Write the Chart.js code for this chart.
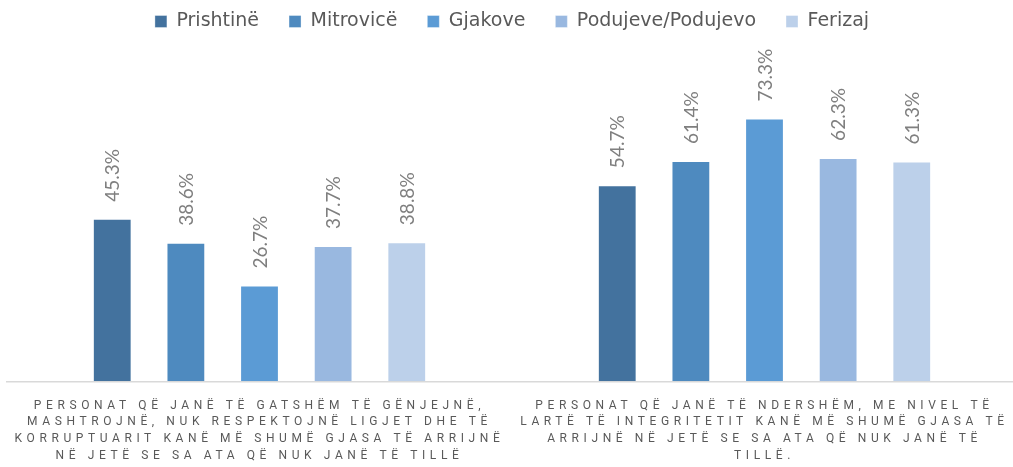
<!DOCTYPE html>
<html>
<head>
<meta charset="utf-8">
<script src="https://cdn.jsdelivr.net/npm/chart.js@4.4.1/dist/chart.umd.min.js"></script>
<style>
html, body { margin: 0; padding: 0; background: #fff; overflow: hidden; }
#wrap { width: 1017px; height: 467px; position: relative; }
</style>
</head>
<body>
<div id="wrap"><canvas id="integrityChart"></canvas></div>
<script>
// te dhenat
const categories = [
    ['PERSONAT QË JANË TË GATSHËM TË GËNJEJNË,', 'MASHTROJNË, NUK RESPEKTOJNË LIGJET DHE TË', 'KORRUPTUARIT KANË MË SHUMË GJASA TË ARRIJNË', 'NË JETË SE SA ATA QË NUK JANË TË TILLË'],
    ['PERSONAT QË JANË TË NDERSHËM, ME NIVEL TË', 'LARTË TË INTEGRITETIT KANË MË SHUMË GJASA TË', 'ARRIJNË NË JETË SE SA ATA QË NUK JANË TË', 'TILLË.']
];
const cities = ['Prishtinë', 'Mitrovicë', 'Gjakove', 'Podujeve/Podujevo', 'Ferizaj'];
const prishtine = [45.3, 54.7];
const mitrovice = [38.6, 61.4];
const gjakove = [26.7, 73.3];
const podujeve = [37.7, 62.3];
const ferizaj = [38.8, 61.3];
const colors = ['#43729e', '#4e8abf', '#5b9bd5', '#99b8e0', '#bcd0ea'];

const seriesValues = [prishtine, mitrovice, gjakove, podujeve, ferizaj];

// etiketat e rrotulluara mbi shtylla
const barLabels = {
    id: 'barLabels',
    afterDatasetsDraw(chart) {
        const ctx = chart.ctx;
        ctx.save();
        ctx.font = '19px Lato';
        ctx.fillStyle = '#7f7f7f';
        ctx.textAlign = 'left';
        ctx.textBaseline = 'middle';
        chart.data.datasets.forEach((ds, i) => {
            chart.getDatasetMeta(i).data.forEach((bar, j) => {
                ctx.save();
                ctx.translate(bar.x + 1, bar.y - 17);
                ctx.rotate(-Math.PI / 2);
                ctx.fillText(ds.data[j].toFixed(1) + '%', 0, 0);
                ctx.restore();
            });
        });
        ctx.restore();
    }
};

// hapesire mes shkronjave per etiketat e boshtit x
const spacedTicks = {
    id: 'spacedTicks',
    afterLayout(chart) {
        const scale = chart.scales.x;
        if (scale._spaced) return;
        const draw = scale.drawLabels.bind(scale);
        scale.drawLabels = function (area) {
            const prev = this.ctx.letterSpacing;
            this.ctx.letterSpacing = '4.6px';
            draw(area);
            this.ctx.letterSpacing = prev || '0px';
        };
        scale._spaced = true;
    }
};

const ctx = document.getElementById('integrityChart').getContext('2d');

const data = {
    labels: categories,
    datasets: cities.map((name, i) => ({
        label: name,
        data: seriesValues[i],
        backgroundColor: colors[i],
        borderColor: 'rgba(255,255,255,0.35)',
        borderWidth: 1,
        categoryPercentage: 0.729,
        barPercentage: 0.527
    }))
};

const config = {
    type: 'bar',
    data: data,
    options: {
        responsive: true,
        maintainAspectRatio: false,
        animation: false,
        layout: {
            padding: { top: -18, left: 7, right: 0, bottom: -13 }
        },
        plugins: {
            legend: {
                position: 'top',
                labels: {
                    boxWidth: 12,
                    boxHeight: 12,
                    padding: 30,
                    color: '#595959',
                    font: { family: 'DejaVu Sans', size: 19 }
                }
            },
            tooltip: { enabled: false }
        },
        scales: {
            x: {
                grid: { display: false, drawTicks: false },
                border: { display: true, color: '#d9d9d9', width: 1.5 },
                ticks: {
                    color: '#595959',
                    padding: 16,
                    maxRotation: 0,
                    autoSkip: false,
                    font: { family: 'Roboto', size: 12, lineHeight: 1.39 }
                }
            },
            y: {
                display: false,
                min: 0,
                max: 94.9
            }
        }
    },
    plugins: [barLabels, spacedTicks]
};

const integrityChart = new Chart(ctx, config);
</script>
</body>
</html>
